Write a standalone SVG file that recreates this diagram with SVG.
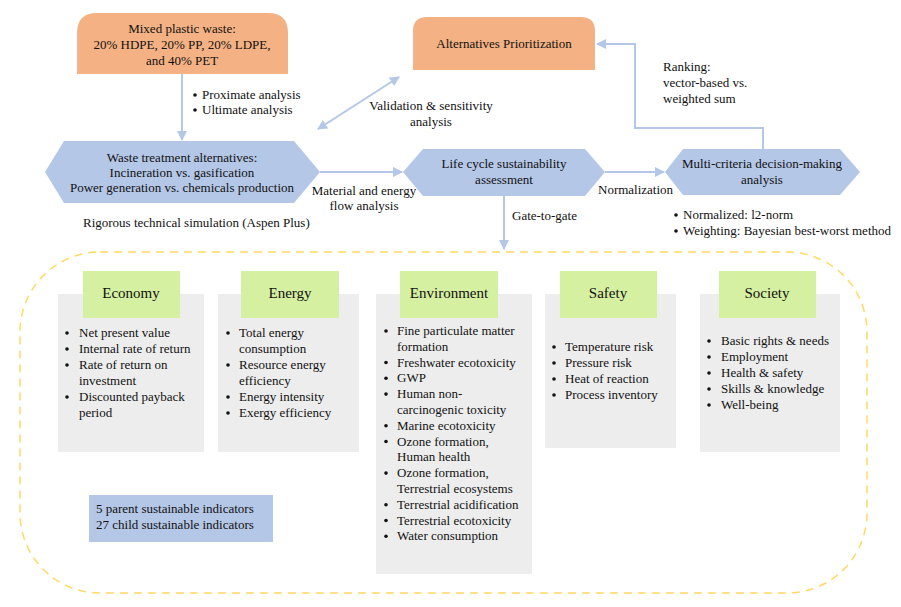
<svg xmlns="http://www.w3.org/2000/svg" width="901" height="607" viewBox="0 0 901 607">
<defs>
<marker id="ah" viewBox="0 0 10 10" refX="9" refY="5" markerWidth="10" markerHeight="10" markerUnits="userSpaceOnUse" orient="auto-start-reverse">
<path d="M0,0 L10,5 L0,10 z" fill="#B4C7E7"/>
</marker>
<style>
text{font-family:"Liberation Serif","Times New Roman",serif;font-size:13px;fill:#111}
.c{text-anchor:middle}
.h{font-size:15px;text-anchor:middle}
.orange{fill:#F4B183}
.hex{fill:#B4C7E7}
.gray{fill:#EDEDED}
.green{fill:#D5F0A1}
.conn{stroke:#B4C7E7;stroke-width:2;fill:none}
</style>
</defs>
<rect width="901" height="607" fill="#fff"/>

<g id="connectors">
<line class="conn" x1="182" y1="74" x2="182" y2="140" marker-end="url(#ah)"/>
<line class="conn" x1="320" y1="172" x2="402" y2="172" marker-end="url(#ah)"/>
<line class="conn" x1="605" y1="172" x2="664" y2="172" marker-end="url(#ah)"/>
<polyline class="conn" points="763,149 763,128 635,128 635,44 597,44" marker-end="url(#ah)"/>
<line class="conn" x1="318" y1="129" x2="399" y2="77" marker-start="url(#ah)" marker-end="url(#ah)"/>
<line class="conn" x1="504" y1="196" x2="504" y2="249" marker-end="url(#ah)"/>
</g>

<g id="mixed-waste">
<path class="orange" d="M77,74 V33 Q77,13 97,13 H268 Q288,13 288,33 V74 Z"/>
<text class="c" x="182" y="33">Mixed plastic waste:</text>
<text class="c" x="182" y="49">20% HDPE, 20% PP, 20% LDPE,</text>
<text class="c" x="182" y="65">and 40% PET</text>
</g>
<g id="proximate-label">
<circle cx="195" cy="95" r="1.8" fill="#111"/>
<text x="202" y="99">Proximate analysis</text>
<circle cx="195" cy="110" r="1.8" fill="#111"/>
<text x="202" y="114">Ultimate analysis</text>
</g>

<g id="alternatives">
<path class="orange" d="M413,70 V31 Q413,17 427,17 H581 Q595,17 595,31 V70 Z"/>
<text class="c" x="504" y="48">Alternatives Prioritization</text>
</g>

<g id="validation-label">
<text class="c" x="431" y="110">Validation &amp; sensitivity</text>
<text class="c" x="431" y="126">analysis</text>
</g>

<g id="ranking-label">
<text x="663" y="71">Ranking:</text>
<text x="663" y="87">vector-based vs.</text>
<text x="663" y="103">weighted sum</text>
</g>

<g id="waste-treatment">
<polygon class="hex" points="45,172 64,141 294,141 320,172 294,203 64,203"/>
<text class="c" x="182" y="162">Waste treatment alternatives:</text>
<text class="c" x="182" y="177">Incineration vs. gasification</text>
<text class="c" x="182" y="192">Power generation vs. chemicals production</text>
</g>
<g id="material-label">
<text class="c" x="364" y="195">Material and energy</text>
<text class="c" x="364" y="210">flow analysis</text>
</g>
<text x="83" y="227">Rigorous technical simulation (Aspen Plus)</text>

<g id="lcsa">
<polygon class="hex" points="403,172 423,149 585,149 605,172 585,196 423,196"/>
<text class="c" x="504" y="168">Life cycle sustainability</text>
<text class="c" x="504" y="184">assessment</text>
</g>
<text x="598" y="194">Normalization</text>
<text x="512" y="220">Gate-to-gate</text>

<g id="mcdm">
<polygon class="hex" points="665,172 683,149 840,149 860,172 840,195 683,195"/>
<text class="c" x="762" y="168">Multi-criteria decision-making</text>
<text class="c" x="762" y="184">analysis</text>
</g>
<g id="mcdm-label">
<circle cx="676" cy="215" r="1.8" fill="#111"/>
<text x="683" y="219">Normalized: l2-norm</text>
<circle cx="676" cy="231" r="1.8" fill="#111"/>
<text x="683" y="235">Weighting: Bayesian best-worst method</text>
</g>

<g id="indicators-frame">
<rect x="20" y="252" width="847" height="341" rx="80" ry="80" fill="none" stroke="#FFD966" stroke-width="1.5" stroke-dasharray="8,6"/>
</g>

<g id="economy">
<rect class="gray" x="58" y="294" width="146" height="158"/>
<rect class="green" x="83" y="271" width="97" height="47"/>
<text class="h" x="131" y="298">Economy</text>
<g>
<circle cx="67" cy="333" r="1.8" fill="#111"/><text x="79" y="337">Net present value</text>
<circle cx="67" cy="349" r="1.8" fill="#111"/><text x="79" y="353">Internal rate of return</text>
<circle cx="67" cy="365" r="1.8" fill="#111"/><text x="79" y="369">Rate of return on</text>
<text x="79" y="385">investment</text>
<circle cx="67" cy="397" r="1.8" fill="#111"/><text x="79" y="401">Discounted payback</text>
<text x="79" y="417">period</text>
</g>
</g>

<g id="energy">
<rect class="gray" x="218" y="294" width="141" height="158"/>
<rect class="green" x="241" y="271" width="98" height="47"/>
<text class="h" x="290" y="298">Energy</text>
<circle cx="228" cy="333" r="1.8" fill="#111"/><text x="239" y="337">Total energy</text>
<text x="239" y="353">consumption</text>
<circle cx="228" cy="365" r="1.8" fill="#111"/><text x="239" y="369">Resource energy</text>
<text x="239" y="385">efficiency</text>
<circle cx="228" cy="397" r="1.8" fill="#111"/><text x="239" y="401">Energy intensity</text>
<circle cx="228" cy="413" r="1.8" fill="#111"/><text x="239" y="417">Exergy efficiency</text>
</g>

<g id="environment">
<rect class="gray" x="376" y="294" width="156" height="280"/>
<rect class="green" x="400" y="271" width="98" height="47"/>
<text class="h" x="449" y="298">Environment</text>
<circle cx="386" cy="331" r="1.8" fill="#111"/><text x="397" y="335">Fine particulate matter</text>
<text x="397" y="351">formation</text>
<circle cx="386" cy="362.5" r="1.8" fill="#111"/><text x="397" y="366.5">Freshwater ecotoxicity</text>
<circle cx="386" cy="378.3" r="1.8" fill="#111"/><text x="397" y="382.3">GWP</text>
<circle cx="386" cy="394.1" r="1.8" fill="#111"/><text x="397" y="398.1">Human non-</text>
<text x="397" y="413.9">carcinogenic toxicity</text>
<circle cx="386" cy="425.7" r="1.8" fill="#111"/><text x="397" y="429.7">Marine ecotoxicity</text>
<circle cx="386" cy="441.5" r="1.8" fill="#111"/><text x="397" y="445.5">Ozone formation,</text>
<text x="397" y="461.3">Human health</text>
<circle cx="386" cy="473.1" r="1.8" fill="#111"/><text x="397" y="477.1">Ozone formation,</text>
<text x="397" y="492.9">Terrestrial ecosystems</text>
<circle cx="386" cy="504.7" r="1.8" fill="#111"/><text x="397" y="508.7">Terrestrial acidification</text>
<circle cx="386" cy="520.5" r="1.8" fill="#111"/><text x="397" y="524.5">Terrestrial ecotoxicity</text>
<circle cx="386" cy="536.3" r="1.8" fill="#111"/><text x="397" y="540.3">Water consumption</text>
</g>

<g id="safety">
<rect class="gray" x="545" y="294" width="131" height="154"/>
<rect class="green" x="560" y="271" width="97" height="47"/>
<text class="h" x="608" y="298">Safety</text>
<circle cx="554" cy="347" r="1.8" fill="#111"/><text x="565" y="351">Temperature risk</text>
<circle cx="554" cy="363" r="1.8" fill="#111"/><text x="565" y="367">Pressure risk</text>
<circle cx="554" cy="379" r="1.8" fill="#111"/><text x="565" y="383">Heat of reaction</text>
<circle cx="554" cy="395" r="1.8" fill="#111"/><text x="565" y="399">Process inventory</text>
</g>

<g id="society">
<rect class="gray" x="700" y="294" width="140" height="158"/>
<rect class="green" x="719" y="271" width="97" height="47"/>
<text class="h" x="767" y="298">Society</text>
<circle cx="709" cy="341" r="1.8" fill="#111"/><text x="721" y="345">Basic rights &amp; needs</text>
<circle cx="709" cy="357" r="1.8" fill="#111"/><text x="721" y="361">Employment</text>
<circle cx="709" cy="373" r="1.8" fill="#111"/><text x="721" y="377">Health &amp; safety</text>
<circle cx="709" cy="389" r="1.8" fill="#111"/><text x="721" y="393">Skills &amp; knowledge</text>
<circle cx="709" cy="405" r="1.8" fill="#111"/><text x="721" y="409">Well-being</text>
</g>

<g id="indicator-count">
<rect x="89" y="495" width="184" height="47" fill="#B4C7E7"/>
<text x="96" y="513">5 parent sustainable indicators</text>
<text x="96" y="529">27 child sustainable indicators</text>
</g>
</svg>
